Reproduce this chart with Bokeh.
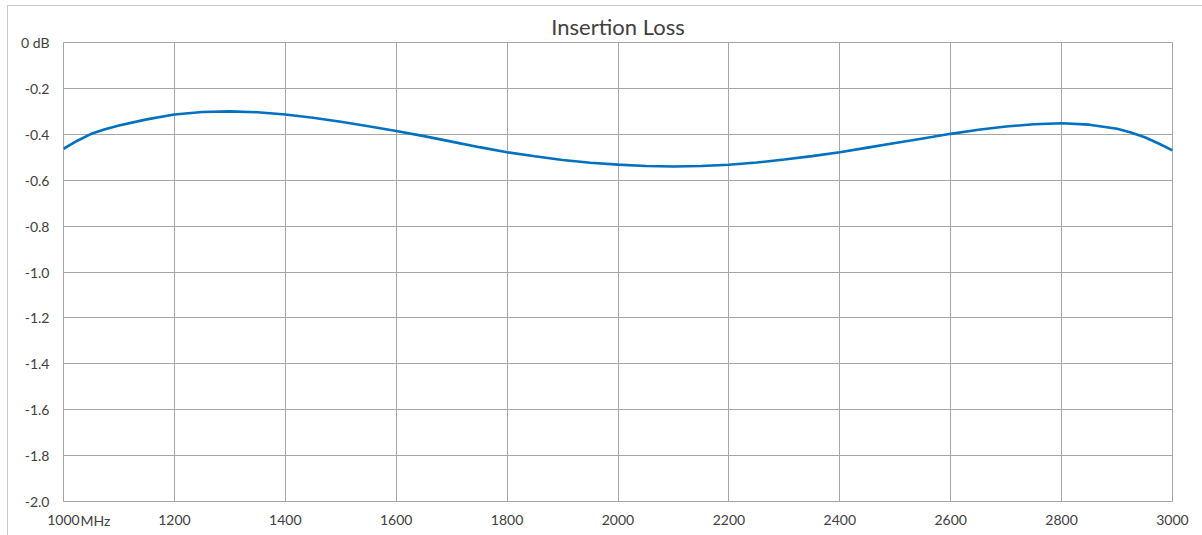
from bokeh.plotting import figure
from bokeh.models import Range1d, FixedTicker, Label, ColumnDataSource
from bokeh.embed import file_html
from bokeh.resources import INLINE

freq_mhz = [1000, 1025, 1050, 1075, 1100, 1150, 1200, 1250, 1300, 1350, 1400, 1450, 1500,
            1550, 1600, 1650, 1700, 1750, 1800, 1850, 1900, 1950, 2000,
            2050, 2100, 2150, 2200, 2250, 2300, 2350, 2400, 2450, 2500,
            2550, 2600, 2650, 2700, 2750, 2800, 2850, 2900, 2925, 2950, 2975, 3000]
loss_db = [-0.463, -0.428, -0.398, -0.378, -0.362, -0.335, -0.314, -0.303, -0.300, -0.304, -0.314, -0.328, -0.345,
           -0.365, -0.386, -0.408, -0.432, -0.456, -0.478, -0.496, -0.512, -0.524, -0.532,
           -0.538, -0.540, -0.538, -0.533, -0.523, -0.510, -0.495, -0.478, -0.458, -0.438,
           -0.418, -0.398, -0.380, -0.366, -0.356, -0.352, -0.358, -0.376, -0.392, -0.413, -0.440, -0.470]

x_ticks = [1000, 1200, 1400, 1600, 1800, 2000, 2200, 2400, 2600, 2800, 3000]
y_ticks = [0.0, -0.2, -0.4, -0.6, -0.8, -1.0, -1.2, -1.4, -1.6, -1.8, -2.0]
y_tick_labels = ["0 dB", "-0.2", "-0.4", "-0.6", "-0.8", "-1.0", "-1.2", "-1.4", "-1.6", "-1.8", "-2.0"]
x_unit = "MHz"
title_text = "Insertion Loss"

FONT = "Lato"
TEXT = "#404040"
GRID = "#a6a6a6"

p = figure(width=1194, height=529, output_backend="svg", toolbar_location=None,
           x_range=Range1d(1000, 3000), y_range=Range1d(-2.0, 0.0),
           min_border_left=55, min_border_right=26, min_border_top=36, min_border_bottom=34,
           title=title_text)
p.styles = {"outline": "1px solid #c8c8c8", "margin-left": "8px", "margin-top": "6px"}

p.title.align = "center"
p.title.text_font = FONT
p.title.text_font_size = "22px"
p.title.text_font_style = "normal"
p.title.text_color = TEXT
p.title.standoff = 5

p.outline_line_color = GRID
p.outline_line_width = 1

for ax in (p.xaxis, p.yaxis):
    ax.axis_line_color = None
    ax.major_tick_line_color = None
    ax.minor_tick_line_color = None
    ax.major_tick_out = 0
    ax.major_tick_in = 0
    ax.major_label_text_font = FONT
    ax.major_label_text_font_size = "14px"
    ax.major_label_text_color = TEXT

p.xaxis.ticker = FixedTicker(ticks=x_ticks)
p.yaxis.ticker = FixedTicker(ticks=y_ticks)
p.yaxis.major_label_overrides = {t: s for t, s in zip(y_ticks, y_tick_labels)}
p.xaxis.major_label_overrides = {t: str(t) for t in x_ticks}
p.yaxis.major_label_standoff = 14
p.xaxis.major_label_standoff = 13

p.xgrid.ticker = FixedTicker(ticks=x_ticks)
p.ygrid.ticker = FixedTicker(ticks=y_ticks)
p.grid.grid_line_color = GRID
p.grid.grid_line_width = 1

src = ColumnDataSource(data=dict(x=freq_mhz, y=loss_db))
p.line("x", "y", source=src, line_color="#0070c0", line_width=2.6)

# unit text next to the first x tick label; in a side panel so it is not clipped to the frame
unit = Label(x=x_ticks[0], y=y_ticks[-1], x_offset=17, y_offset=-19, text=x_unit,
             text_font=FONT, text_font_size="14px", text_color=TEXT,
             text_baseline="middle", text_align="left")
p.add_layout(unit, "right")

open("out.html", "w").write(file_html(p, INLINE))
